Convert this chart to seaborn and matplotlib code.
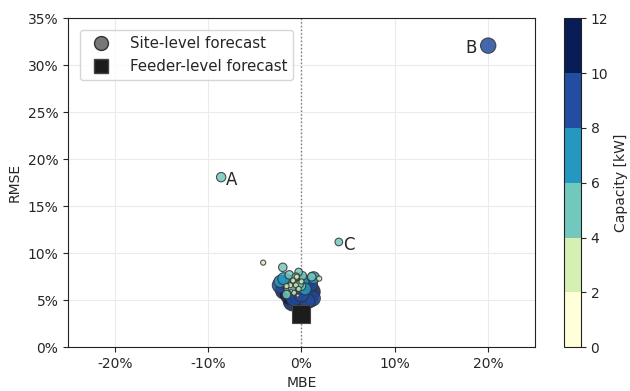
import numpy as np
import pandas as pd
import matplotlib
matplotlib.use("Agg")
import matplotlib.pyplot as plt
from matplotlib.colors import BoundaryNorm, ListedColormap
from matplotlib.cm import ScalarMappable
from matplotlib.lines import Line2D
from matplotlib.ticker import FuncFormatter
import seaborn as sns

# Site-level forecast errors (MBE %, RMSE %) and PV capacity (kW)
site_mbe = [-8.6, 20.0, 4.0, -4.1, 1.9, 1.1, -0.3, -2.0,
            -1.8, -1.2, -0.5, 0.3, 0.8, 1.0, -0.2, 0.5, -0.9, 0.0,
            -2.3, -1.5, 0.9, 1.2, -0.8, 0.0, 0.6,
            -2.3, -1.9, -1.0, -0.4, 0.2, 1.3, 0.4,
            -1.3, -0.6, -1.6, -1.0, -0.7, 0.1, -0.2, -1.4, 0.0,
            -1.2, -0.6, -0.9, -0.3, -0.8, -1.6, 0.0, -0.5,
            -1.1, -0.4]
site_rmse = [18.1, 32.1, 11.2, 9.0, 7.3, 7.5, 8.0, 8.5,
             6.1, 5.6, 5.3, 5.0, 5.2, 5.9, 6.0, 6.6, 4.9, 4.8,
             6.6, 6.9, 6.7, 5.2, 5.2, 5.6, 4.9,
             7.0, 7.3, 7.0, 7.2, 7.1, 7.4, 6.2,
             7.7, 7.5, 5.6, 6.3, 6.8, 7.6, 6.7, 6.1, 6.5,
             6.6, 6.6, 7.1, 6.2, 5.8, 6.5, 7.0, 7.5,
             6.0, 5.5]
site_capacity = [5.5, 9.0, 4.5, 3.0, 3.0, 5.0, 4.5, 5.0,
                 11.0, 11.5, 11.0, 11.5, 11.0, 11.0, 10.5, 10.5, 11.5, 12.0,
                 9.0, 9.0, 9.0, 9.0, 9.0, 8.5, 9.0,
                 7.0, 7.0, 7.0, 7.0, 7.0, 7.0, 7.0,
                 5.0, 4.5, 5.0, 4.5, 5.0, 5.0, 4.5, 5.0, 5.0,
                 3.0, 3.0, 3.0, 3.0, 3.0, 3.0, 3.0, 3.0,
                 1.5, 1.8]

# Feeder-level forecast error (MBE %, RMSE %)
feeder_mbe = [-0.05]
feeder_rmse = [3.5]

labels = ["A", "B", "C"]
x_ticks = [-20, -10, 0, 10, 20]
y_ticks = [0, 5, 10, 15, 20, 25, 30, 35]
cbar_ticks = [0, 2, 4, 6, 8, 10, 12]

sns.set_style("ticks")
plt.rcParams["font.family"] = ["DejaVu Sans"]

bounds = np.arange(0, 13, 2)
cmap = ListedColormap(plt.get_cmap("YlGnBu", len(bounds) - 1)(np.arange(len(bounds) - 1)))
norm = BoundaryNorm(bounds, cmap.N)

sites = pd.DataFrame({"MBE": site_mbe, "RMSE": site_rmse, "Capacity": site_capacity})
sites["band"] = np.minimum((sites["Capacity"] // 2).astype(int), cmap.N - 1)
# marker diameter grows with capacity, so the area follows its square
sites["area"] = sites["Capacity"] ** 2
sites = sites.sort_values("Capacity", ascending=False)
palette = {i: cmap(i) for i in range(cmap.N)}

fig = plt.figure(figsize=(6.3, 3.91), dpi=100)
ax = fig.add_axes([0.108, 0.112, 0.741, 0.841])
cax = fig.add_axes([0.895, 0.112, 0.027, 0.841])

ax.grid(True, color="#ebebeb", linewidth=0.8, zorder=0)
ax.axvline(0, color="#777777", linestyle=":", linewidth=1.0, zorder=1)

sns.scatterplot(data=sites, x="MBE", y="RMSE", hue="band", palette=palette,
                size="area", sizes=(0, 216), size_norm=(0, 144),
                edgecolor="#333333", linewidth=0.8, alpha=0.85,
                legend=False, ax=ax, zorder=3)

sns.scatterplot(x=feeder_mbe, y=feeder_rmse, marker="s", s=150,
                color="#1c1c1c", edgecolor="#444444", linewidth=0.8,
                legend=False, ax=ax, zorder=4)

# Letter labels on the three outlying sites
outliers = sites[sites["RMSE"] > 10].sort_values("RMSE")
offsets = {"A": (0.5, -0.3, "left"), "C": (0.5, -0.3, "left"), "B": (-1.2, -0.3, "right")}
for name, (_, row) in zip(["C", "A", "B"], outliers.iterrows()):
    dx, dy, ha = offsets[name]
    ax.text(row["MBE"] + dx, row["RMSE"] + dy, name, fontsize=12,
            ha=ha, va="center", zorder=5)

ax.set_xlim(-25, 25)
ax.set_ylim(0, 35)
ax.set_xticks(x_ticks)
ax.set_yticks(y_ticks)
pct = FuncFormatter(lambda v, _: f"{v:.0f}%")
ax.xaxis.set_major_formatter(pct)
ax.yaxis.set_major_formatter(pct)
ax.tick_params(labelsize=10)
ax.set_xlabel("MBE", fontsize=10)
ax.set_ylabel("RMSE", fontsize=10)
for sp in ax.spines.values():
    sp.set_visible(True)
    sp.set_color("#222222")

handles = [
    Line2D([], [], marker="o", linestyle="", markersize=10,
           markerfacecolor="#777777", markeredgecolor="#333333", label="Site-level forecast"),
    Line2D([], [], marker="s", linestyle="", markersize=10,
           markerfacecolor="#1c1c1c", markeredgecolor="#444444", label="Feeder-level forecast"),
]
ax.legend(handles=handles, loc="upper left", fontsize=10.8, frameon=True,
          borderaxespad=0.8, handletextpad=0.9)

cb = fig.colorbar(ScalarMappable(norm=norm, cmap=cmap), cax=cax)
cb.set_ticks(cbar_ticks)
cb.set_label("Capacity [kW]", fontsize=10)
cb.ax.tick_params(labelsize=10)
cb.outline.set_edgecolor("#222222")

fig.savefig("out.png", dpi=100)
